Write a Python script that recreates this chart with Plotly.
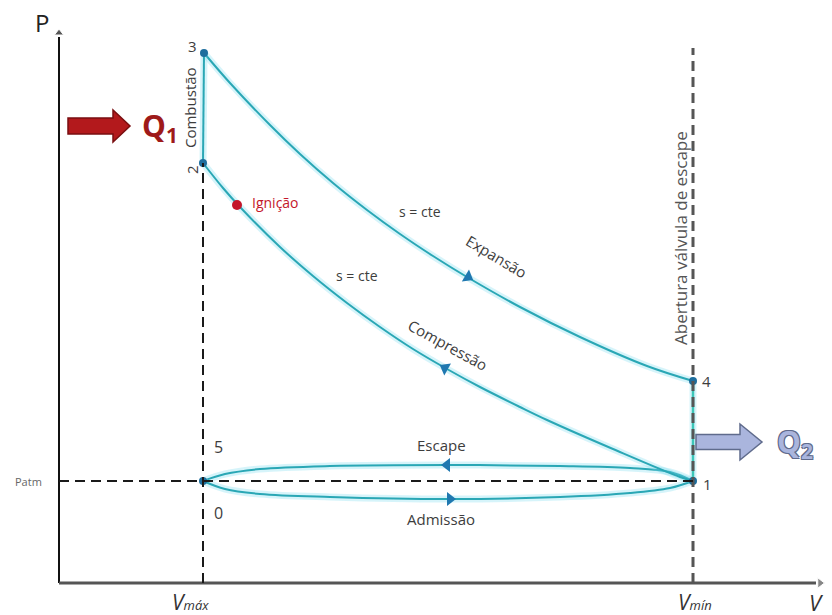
import plotly.graph_objects as go

# ---- values (abstract V / P units, origin at axis corner) ----
V_MAX = 144          # left dashed line (labelled "Vmáx")
V_MIN = 634          # right dashed line (labelled "Vmín")
P_ATM = 102
V_AXIS_END = 761
P_AXIS_END = 550

# expansion 3 -> 4 (s = cte)
exp_v = [145, 171, 211, 241, 274, 308, 341, 374, 408, 461, 521, 588, 634]
exp_p = [530, 500, 458, 429, 400, 373, 349, 327, 306, 276, 246, 217, 202]

# compression 2 <- 1 (s = cte)
comp_v = [144, 164, 181, 221, 254, 288, 321, 354, 388, 421, 461, 488, 554, 621, 634]
comp_p = [420, 395, 376, 336, 307, 280, 256, 234, 214, 196, 176, 163, 134, 106, 102]

# exhaust 1 -> 5 (upper) and intake 0 -> 1 (lower)
esc_v = [634, 611, 571, 501, 391, 271, 201, 166, 144]
esc_p = [102, 111, 115, 117, 118, 117, 114, 109, 102]
adm_v = [144, 166, 201, 271, 391, 501, 571, 611, 634]
adm_p = [102, 94, 89, 86, 84, 86, 90, 95, 102]

# state points
pt_names = ["3", "2", "4", "1", "5/0"]
pt_v = [145, 144, 634, 634, 144]
pt_p = [530, 420, 202, 102, 102]

ign_v, ign_p = [178], [378]

# direction arrows on the curves
arr_v = [409, 386, 388, 391]
arr_p = [306, 215, 118, 84]
arr_sym = ["triangle-right", "triangle-left", "triangle-left", "triangle-right"]
arr_ang = [31, 29, 0, 0]

TEAL = "#2aa7b5"
GLOW = "rgba(120,220,238,0.30)"
DOT = "#1d6e9e"
TXT = "#3d3d3d"
FONT = "Open Sans"

fig = go.Figure()

def curve(v, p, color=TEAL, width=2):
    fig.add_trace(go.Scatter(x=v, y=p, mode="lines", line=dict(color=GLOW, width=7, shape="spline"),
                             hoverinfo="skip", showlegend=False))
    fig.add_trace(go.Scatter(x=v, y=p, mode="lines", line=dict(color=color, width=width, shape="spline"),
                             hoverinfo="skip", showlegend=False))

# axes (lines + arrowheads)
fig.add_shape(type="line", x0=0, x1=0, y0=0, y1=P_AXIS_END - 4, line=dict(color="#111111", width=2))
fig.add_shape(type="line", x0=0, x1=V_AXIS_END - 4, y0=0, y1=0, line=dict(color="#555555", width=3))
fig.add_trace(go.Scatter(x=[0, V_AXIS_END], y=[P_AXIS_END, 0], mode="markers",
                         marker=dict(symbol=["triangle-up", "triangle-right"], color=["#111111", "#555555"],
                                     size=[8, 9]),
                         hoverinfo="skip", showlegend=False))

# dashed guide lines
dash = "10px,6px"
fig.add_shape(type="line", x0=V_MAX, x1=V_MAX, y0=0, y1=pt_p[1], line=dict(color="#1a1a1a", width=2, dash=dash))
fig.add_shape(type="line", x0=V_MIN, x1=V_MIN, y0=0, y1=535, line=dict(color="#555555", width=3, dash=dash))
fig.add_shape(type="line", x0=0, x1=V_MIN, y0=P_ATM, y1=P_ATM, line=dict(color="#1a1a1a", width=2, dash=dash))

curve(esc_v, esc_p)
curve(adm_v, adm_p)
curve(exp_v, exp_p)
curve(comp_v, comp_p)
# combustion 2 -> 3 and exhaust opening 4 -> 1 (straight)
curve([pt_v[1], pt_v[0]], [pt_p[1], pt_p[0]])
curve([pt_v[2], pt_v[3]], [pt_p[2], pt_p[3]], color="#3cc6b8", width=2.5)

fig.add_trace(go.Scatter(x=pt_v, y=pt_p, mode="markers", marker=dict(color=DOT, size=8),
                         hoverinfo="skip", showlegend=False))
fig.add_trace(go.Scatter(x=ign_v, y=ign_p, mode="markers", marker=dict(color="#c4162a", size=10),
                         hoverinfo="skip", showlegend=False))
fig.add_trace(go.Scatter(x=arr_v, y=arr_p, mode="markers",
                         marker=dict(symbol=arr_sym, angle=arr_ang, color="#1f78b0", size=12),
                         hoverinfo="skip", showlegend=False))

# heat arrows (block arrows)
def block_arrow(x_tail, x_tip, x_head, yc, hs, hh, fill, edge):
    path = (f"M {x_tail} {yc-hs} L {x_head} {yc-hs} L {x_head} {yc-hh} L {x_tip} {yc} "
            f"L {x_head} {yc+hh} L {x_head} {yc+hs} L {x_tail} {yc+hs} Z")
    fig.add_shape(type="path", path=path, fillcolor=fill, line=dict(color=edge, width=1.5))

block_arrow(9, 71, 54, 457, 8, 16, "#b3191c", "#7a0e10")
block_arrow(637, 703, 681, 141, 7.5, 18, "#aab5dd", "#5f6b8c")

def txt(x, y, s, size=16, color=TXT, angle=0, xanchor="center", **kw):
    fig.add_annotation(x=x, y=y, text=s, showarrow=False, textangle=angle, xanchor=xanchor,
                       yanchor="middle", font=dict(family=FONT, size=size, color=color, **kw))

txt(-17, 561, "P", size=24, color="#222222")
txt(757, -19, "<i>V</i>", size=22, color="#333333")
txt(131, -19, "<i>V</i><span style='font-size:13px'><i>máx</i></span>", size=21, color="#333333")
txt(636, -19, "<i>V</i><span style='font-size:13px'><i>mín</i></span>", size=21, color="#333333")
txt(-31, P_ATM, "Patm", size=11, color="#666666")

txt(101, 456, "<b>Q<sub>1</sub></b>", size=30, color="#9e1a1a")
txt(736, 140, "<b>Q<sub>2</sub></b>", size=30, color="#aab5dd",
    shadow="1px 1px 0 #5f6b8c, -1px -1px 0 #5f6b8c, 1px -1px 0 #5f6b8c, -1px 1px 0 #5f6b8c")

txt(133, 537, "3", size=15)
txt(133, 413, "2", size=15, angle=-90)
txt(131, 475, "Combustão", size=15, angle=-90)
txt(191, 381, "Ignição", size=14, color="#c4162a", xanchor="left")
txt(361, 372, "s = cte", size=14)
txt(298, 308, "s = cte", size=14)
txt(437, 327, "Expansão", size=15, angle=31)
txt(389, 238, "Compressão", size=15, angle=29)
txt(621, 345, "Abertura válvula de escape", size=17, angle=-90, color="#555555")
txt(647, 202, "4", size=15)
txt(648, 99, "1", size=15)
txt(159, 136, "5", size=16)
txt(159, 70, "0", size=16)
txt(382, 138, "Escape", size=15)
txt(382, 64, "Admissão", size=15)

fig.update_layout(
    width=832, height=615, margin=dict(l=0, r=0, t=0, b=0),
    paper_bgcolor="white", plot_bgcolor="white", showlegend=False,
    xaxis=dict(range=[-59, 773], visible=False, fixedrange=True),
    yaxis=dict(range=[-32, 583], visible=False, fixedrange=True),
)
fig.write_html("out.html", config={"displayModeBar": False},
               post_script="document.body.style.margin='0';document.body.style.overflow='hidden';")
